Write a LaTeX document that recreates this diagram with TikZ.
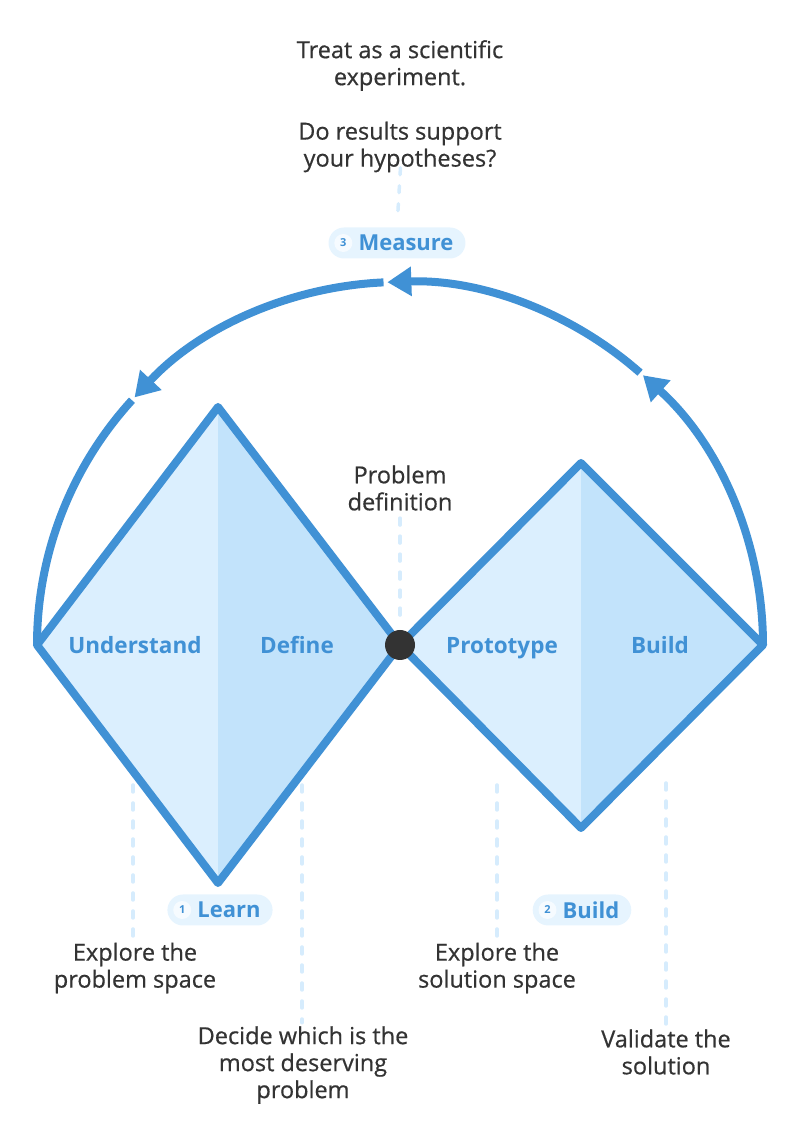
\documentclass[tikz,border=0pt]{standalone}
\usepackage{fontspec}
\setmainfont{Open Sans}
\newfontfamily\notefont{Open Sans}[FakeBold=0.6]
\usetikzlibrary{arrows.meta,calc}
\definecolor{dtblue}{RGB}{64,145,213}
\definecolor{dtlight}{RGB}{219,239,254}
\definecolor{dtdark}{RGB}{194,227,251}
\definecolor{dtdash}{RGB}{214,236,253}
\definecolor{dtpill}{RGB}{230,244,254}
\definecolor{dtnum}{RGB}{246,251,255}
\definecolor{dttext}{RGB}{51,51,51}
\begin{document}
\begin{tikzpicture}[x=1pt,y=1pt,
  outline/.style={draw=dtblue,line width=8pt,line join=round},
  arcline/.style={draw=dtblue,line width=8pt},
  headarrow/.style={arcline,-{Triangle[length=24pt,width=28pt]}},
  leader/.style={draw=dtdash,line width=3.5pt,dash pattern=on 7pt off 11pt,line cap=round},
  phase/.style={text=dtblue,text depth=0pt,font=\fontsize{22.5}{26}\selectfont\bfseries},
  note/.style={text=dttext,align=center,font=\notefont\fontsize{23.5}{27}\selectfont},
  pill/.style={fill=dtpill,rounded corners=15.5pt,minimum height=31pt,inner xsep=12pt,inner ysep=0pt,
    text=dtblue,font=\fontsize{22}{26}\selectfont\bfseries},
  num/.style={circle,fill=dtnum,minimum size=18pt,inner sep=0pt,text=dtblue,font=\fontsize{11}{12}\selectfont\bfseries}]
\useasboundingbox (0,0) rectangle (800,1141);
\coordinate (C) at (400,496);
% left diamond
\coordinate (lw) at (37,496);
\coordinate (ln) at (218,734);
\coordinate (le) at (400,496);
\coordinate (ls) at (218,258);
\fill[dtlight] (lw) -- (ln) -- (ls) -- cycle;
\fill[dtdark] (ln) -- (le) -- (ls) -- cycle;
\draw[outline] (lw) -- (ln) -- (le) -- (ls) -- cycle;
% right diamond
\coordinate (rw) at (400,496);
\coordinate (rn) at (581,678);
\coordinate (re) at (763,496);
\coordinate (rs) at (581,313);
\fill[dtlight] (rw) -- (rn) -- (rs) -- cycle;
\fill[dtdark] (rn) -- (re) -- (rs) -- cycle;
\draw[outline] (rw) -- (rn) -- (re) -- (rs) -- cycle;
% loop back
\draw[headarrow] ($(C)+(0:363)$) arc[start angle=0,end angle=48,radius=363pt];
\draw[headarrow] ($(C)+(48.6:363)$) arc[start angle=48.6,end angle=92,radius=363pt];
\draw[headarrow] ($(C)+(92.6:363)$) arc[start angle=92.6,end angle=137,radius=363pt];
\draw[arcline] ($(C)+(137.6:363)$) arc[start angle=137.6,end angle=180,radius=363pt];
\node[circle,fill=dttext,minimum size=30pt,inner sep=0pt] (pd) at (C) {};

\node[phase] (understand) at (135,496) {Understand};
\node[phase] (define) at (297,496) {Define};
\node[phase] (prototype) at (502,496) {Prototype};
\node[phase] (build) at (660,496) {Build};

\node[note] (probdef) at (400,653) {Problem\\definition};
\node[note] (treat) at (400,1075.5) {Treat as a scientific\\experiment.};
\node[note] (doresults) at (400,994) {Do results support\\your hypotheses?};

\node[pill] (measure) at (397,898) {\hspace{18pt}Measure};
\node[num] (n3) at ([xshift=15pt]measure.west) {3};
\node[pill] (learn) at (220,231) {\hspace{18pt}Learn};
\node[num] (n1) at ([xshift=15pt]learn.west) {1};
\node[pill] (buildpill) at (582,231) {\hspace{18pt}Build};
\node[num] (n2) at ([xshift=15pt]buildpill.west) {2};

\node[note] (exprob) at (135,173) {Explore the\\problem space};
\node[note] (decide) at (303,76) {Decide which is the\\most deserving\\problem};
\node[note] (exsol) at (497,173) {Explore the\\solution space};
\node[note] (validate) at (666,89) {Validate the\\solution};

\coordinate (t1) at (133,356);
\coordinate (t2) at (302,356);
\coordinate (t3) at (497,356);
\coordinate (t4) at (666,358);
\draw[leader] (t1) -- (t1 |- exprob.north);
\draw[leader] (t2) -- (t2 |- decide.north);
\draw[leader] (t3) -- (t3 |- exsol.north);
\draw[leader] (t4) -- (t4 |- validate.north);
\draw[leader,shorten <=4pt,shorten >=4pt] (probdef.south) -- (pd.north);
\draw[leader,shorten <=-8pt,shorten >=8pt] (doresults.south) -- (measure.north);
\end{tikzpicture}
\end{document}
